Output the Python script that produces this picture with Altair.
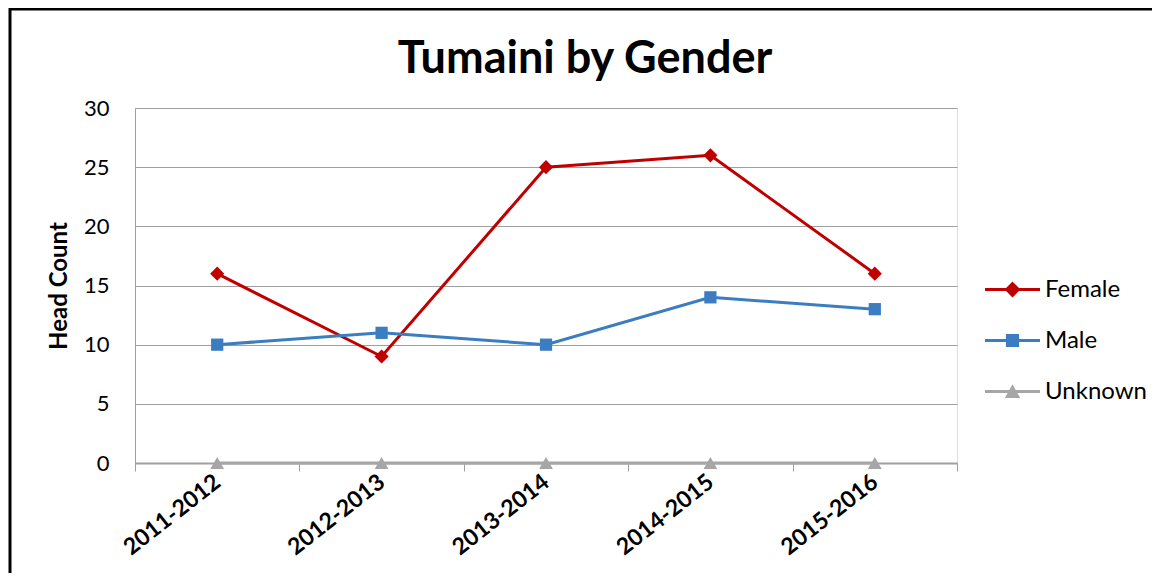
import altair as alt
import pandas as pd

seasons = ["2011-2012", "2012-2013", "2013-2014", "2014-2015", "2015-2016"]
female = [16, 9, 25, 26, 16]
male = [10, 11, 10, 14, 13]
unknown = [0, 0, 0, 0, 0]

series_names = ["Female", "Male", "Unknown"]
series_colors = ["#C00000", "#3B7DC1", "#A6A6A6"]
marker_shapes = ["diamond", "square", "triangle-up"]
marker_sizes = [200, 150, 190]
legend_paths = [
    "M-1,-0.055H1V0.055H-1Z M0,-0.29L0.29,0L0,0.29L-0.29,0Z",
    "M-1,-0.055H1V0.055H-1Z M-0.24,-0.24H0.24V0.24H-0.24Z",
    "M-1,-0.055H1V0.055H-1Z M0,-0.26L0.28,0.24H-0.28Z",
]

rows = []
for name, vals in zip(series_names, [female, male, unknown]):
    for s, v in zip(seasons, vals):
        rows.append({"season": s, "gender": name, "count": v})
df = pd.DataFrame(rows)

FONT = "Lato"

x_enc = alt.X(
    "season:N",
    sort=seasons,
    scale=alt.Scale(type="band", paddingInner=0, paddingOuter=0),
    bandPosition=0.5,
    title=None,
    axis=alt.Axis(
        tickBand="extent", grid=False, domainColor="#A0A0A0", domainWidth=2,
        tickColor="#A0A0A0", tickSize=8, labelAngle=322, labelAlign="right",
        labelBaseline="middle", labelFont=FONT, labelFontWeight="bold",
        labelFontSize=23, labelColor="black", labelPadding=8,
    ),
)
y_enc = alt.Y(
    "count:Q",
    scale=alt.Scale(domain=[0, 30], nice=False),
    title="Head Count",
    axis=alt.Axis(
        values=[0, 5, 10, 15, 20, 25, 30], grid=True, gridColor="#A0A0A0",
        domainColor="#A0A0A0", ticks=False, labelFont=FONT, labelFontSize=22,
        labelColor="black", labelPadding=26, titleFont=FONT, titleFontSize=24,
        titleFontWeight="bold", titleColor="black", titlePadding=12,
    ),
)
color_scale = alt.Scale(domain=series_names, range=series_colors)

base = alt.Chart(df)

series_layers = []
for name, shp, sz, col in zip(series_names, marker_shapes, marker_sizes, series_colors):
    sub = base.transform_filter(alt.datum.gender == name)
    series_layers.append(sub.mark_line(strokeWidth=3, color=col).encode(x=x_enc, y=y_enc))
for name, shp, sz, col in zip(series_names, marker_shapes, marker_sizes, series_colors):
    sub = base.transform_filter(alt.datum.gender == name)
    series_layers.append(
        sub.mark_point(filled=True, opacity=1, size=sz, shape=shp, color=col)
        .encode(x=x_enc, y=y_enc)
    )

leg = dict(
    title=None, orient="none", legendX=850, legendY=154,
    symbolSize=3025, symbolOpacity=1, symbolStrokeWidth=0,
    labelFont=FONT, labelFontSize=24, labelColor="black",
    labelOffset=5, rowPadding=11,
)
legend_layer = base.mark_point(filled=True, opacity=0, size=10).encode(
    x=x_enc, y=y_enc,
    color=alt.Color("gender:N", scale=color_scale, legend=alt.Legend(**leg)),
    shape=alt.Shape("gender:N", scale=alt.Scale(domain=series_names, range=legend_paths),
                    legend=alt.Legend(**leg)),
)

one = alt.Chart(pd.DataFrame({"a": [0]}))
frame = one.mark_rect(fillOpacity=0, stroke="black", strokeWidth=3).encode(
    x=alt.value(-125), x2=alt.value(1020), y=alt.value(-99), y2=alt.value(480)
)
title = one.mark_text(
    text="Tumaini by Gender", font=FONT, fontSize=45, fontWeight="bold",
    color="black", align="center", baseline="alphabetic",
).encode(x=alt.value(450), y=alt.value(-35))

chart = alt.layer(frame, title, *series_layers, legend_layer).properties(
    width=822, height=355,
    autosize=alt.AutoSizeParams(type="none"),
    padding={"left": 127, "top": 100, "right": 195, "bottom": 110},
).configure_view(stroke="transparent").configure(background="white")

chart.save("out.html", embed_options={"renderer": "svg", "actions": False})
